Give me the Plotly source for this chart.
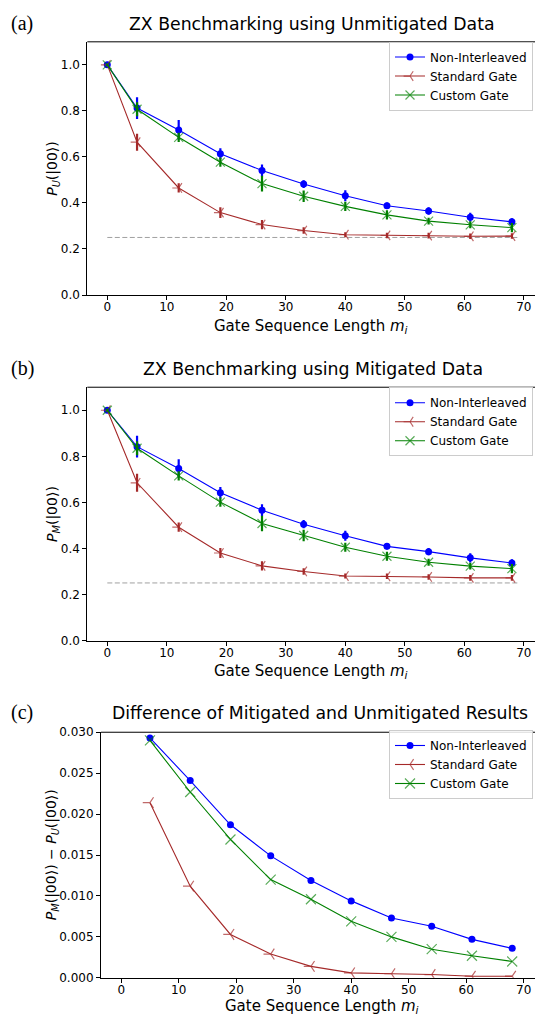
import plotly.graph_objects as go

# ---------------- data ----------------
m_len = [0, 5, 12, 19, 26, 33, 40, 47, 54, 61, 68]
baseline_x = [0, 69]
baseline_y = [0.25, 0.25]

a_non = [1.0, 0.812, 0.717, 0.614, 0.541, 0.482, 0.431, 0.388, 0.365, 0.338, 0.318]
a_non_err = [0.005, 0.047, 0.043, 0.024, 0.026, 0.017, 0.024, 0.014, 0.016, 0.019, 0.016]
a_std = [1.0, 0.664, 0.465, 0.358, 0.306, 0.280, 0.262, 0.259, 0.258, 0.255, 0.256]
a_std_err = [0.005, 0.037, 0.020, 0.023, 0.020, 0.014, 0.011, 0.012, 0.012, 0.012, 0.012]
a_cus = [1.0, 0.807, 0.685, 0.577, 0.484, 0.429, 0.385, 0.348, 0.321, 0.305, 0.293]
a_cus_err = [0.005, 0.030, 0.020, 0.020, 0.034, 0.025, 0.020, 0.020, 0.015, 0.015, 0.020]

b_non = [1.0, 0.842, 0.747, 0.642, 0.566, 0.505, 0.455, 0.409, 0.386, 0.359, 0.337]
b_non_err = [0.005, 0.047, 0.040, 0.025, 0.026, 0.018, 0.022, 0.014, 0.016, 0.020, 0.016]
b_std = [1.0, 0.685, 0.492, 0.380, 0.324, 0.300, 0.280, 0.279, 0.276, 0.272, 0.272]
b_std_err = [0.005, 0.039, 0.020, 0.022, 0.020, 0.014, 0.011, 0.012, 0.012, 0.012, 0.012]
b_cus = [1.0, 0.835, 0.715, 0.601, 0.508, 0.456, 0.405, 0.366, 0.340, 0.323, 0.312]
b_cus_err = [0.005, 0.030, 0.020, 0.020, 0.034, 0.025, 0.020, 0.020, 0.015, 0.015, 0.020]

c_len = [5, 12, 19, 26, 33, 40, 47, 54, 61, 68]
c_non = [0.0293, 0.0241, 0.0187, 0.0149, 0.0119, 0.0094, 0.0073, 0.0063, 0.0047, 0.0036]
c_std = [0.0214, 0.0112, 0.0053, 0.0029, 0.0014, 0.0006, 0.0005, 0.0004, 0.0002, 0.0002]
c_cus = [0.0290, 0.0227, 0.0169, 0.0120, 0.0096, 0.0069, 0.0050, 0.0035, 0.0027, 0.0020]

names = ["Non-Interleaved", "Standard Gate", "Custom Gate"]
x_ticks = [0, 10, 20, 30, 40, 50, 60, 70]

# ---------------- layout helpers ----------------
W, H = 535, 1023
FONT = "DejaVu Sans"
BLUE = "#0000ff"
RED = "#a52a2a"
RED_A = "rgba(165,42,42,0.7)"
GREEN = "#008000"
GREEN_A = "rgba(0,128,0,0.65)"


def px(x):
    return x / W


def py(y):
    return 1 - y / H


fig = go.Figure()


def add_panel(idx, non, non_err, std, std_err, cus, cus_err, legend):
    xa = "x" if idx == 1 else f"x{idx}"
    ya = "y" if idx == 1 else f"y{idx}"
    fig.add_trace(go.Scatter(
        x=baseline_x, y=baseline_y, mode="lines", xaxis=xa, yaxis=ya,
        line=dict(color="rgba(128,128,128,0.75)", width=1, dash="5px,2.5px"),
        showlegend=False, hoverinfo="skip"))
    fig.add_trace(go.Scatter(
        x=m_len, y=non, name=names[0], mode="lines+markers", xaxis=xa, yaxis=ya,
        line=dict(color=BLUE, width=1.1),
        marker=dict(symbol="circle", size=7, color=BLUE),
        error_y=dict(type="data", array=non_err, color=BLUE, thickness=2.2, width=0),
        legend=legend))
    fig.add_trace(go.Scatter(
        x=m_len, y=std, name=names[1], mode="lines+markers", xaxis=xa, yaxis=ya,
        line=dict(color=RED, width=1.1),
        marker=dict(symbol="y-left-open", size=8, color=RED_A, line=dict(color=RED_A, width=1.2)),
        error_y=dict(type="data", array=std_err, color=RED, thickness=2.2, width=0),
        legend=legend))
    fig.add_trace(go.Scatter(
        x=m_len, y=cus, name=names[2], mode="lines+markers", xaxis=xa, yaxis=ya,
        line=dict(color=GREEN, width=1.1),
        marker=dict(symbol="x-thin-open", size=9, color=GREEN_A, line=dict(color=GREEN_A, width=1.2)),
        error_y=dict(type="data", array=cus_err, color=GREEN, thickness=2.2, width=0),
        legend=legend))


add_panel(1, a_non, a_non_err, a_std, a_std_err, a_cus, a_cus_err, "legend")
add_panel(2, b_non, b_non_err, b_std, b_std_err, b_cus, b_cus_err, "legend2")

# panel (c)
fig.add_trace(go.Scatter(
    x=c_len, y=c_non, name=names[0], mode="lines+markers", xaxis="x3", yaxis="y3",
    line=dict(color=BLUE, width=1.1), marker=dict(symbol="circle", size=7, color=BLUE),
    legend="legend3"))
fig.add_trace(go.Scatter(
    x=c_len, y=c_std, name=names[1], mode="lines+markers", xaxis="x3", yaxis="y3",
    line=dict(color=RED, width=1.1),
    marker=dict(symbol="y-left-open", size=9, color=RED_A, line=dict(color=RED_A, width=1.2)),
    legend="legend3"))
fig.add_trace(go.Scatter(
    x=c_len, y=c_cus, name=names[2], mode="lines+markers", xaxis="x3", yaxis="y3",
    line=dict(color=GREEN, width=1.1),
    marker=dict(symbol="x-thin-open", size=10, color=GREEN_A, line=dict(color=GREEN_A, width=1.2)),
    legend="legend3"))

tickfont = dict(family=FONT, size=12, color="black")


def xaxis(dom, rng, anchor):
    return dict(domain=dom, range=rng, anchor=anchor, tickvals=x_ticks,
                showline=True, linecolor="black", linewidth=1, ticks="outside",
                ticklen=4, tickwidth=1, tickcolor="black", showgrid=False,
                zeroline=False, tickfont=tickfont, fixedrange=True,
                ticklabelstandoff=-3)


def yaxis(dom, rng, anchor, tv, fmt):
    return dict(domain=dom, range=rng, anchor=anchor, tickvals=tv, tickformat=fmt,
                showline=True, linecolor="black", linewidth=1, ticks="outside",
                ticklen=4, tickwidth=1, tickcolor="black", showgrid=False,
                zeroline=False, tickfont=tickfont, fixedrange=True)


ab_range = [(87.3 - 107.3) / 5.95, (535 - 107.3) / 5.95]
c_range = [(101 - 121.2) / 5.75, (535 - 121.2) / 5.75]
ytv = [0.0, 0.2, 0.4, 0.6, 0.8, 1.0]
ytv_c = [0.0, 0.005, 0.01, 0.015, 0.02, 0.025, 0.03]

legend_style = dict(bgcolor="rgba(255,255,255,0.85)", bordercolor="#cccccc", borderwidth=1,
                    font=dict(family=FONT, size=12, color="black"), xanchor="right",
                    yanchor="middle", tracegroupgap=0, itemwidth=30)

fig.update_layout(
    width=W, height=H, margin=dict(l=0, r=0, t=0, b=0),
    paper_bgcolor="white", plot_bgcolor="white",
    font=dict(family=FONT, color="black"),
    xaxis=xaxis([px(87.3), 1], ab_range, "y"),
    yaxis=yaxis([py(292), py(35.3)], [0, 1.1], "x", ytv, ".1f"),
    xaxis2=xaxis([px(87.3), 1], ab_range, "y2"),
    yaxis2=yaxis([py(642.3), py(385.5)], [0, 1.1], "x2", ytv, ".1f"),
    xaxis3=xaxis([px(101), 1], c_range, "y3"),
    yaxis3=yaxis([py(984.3), py(735.3)], [0, 0.03], "x3", ytv_c, ".3f"),
    legend=dict(x=px(533), y=py(70), **legend_style),
    legend2=dict(x=px(533), y=py(420.5), **legend_style),
    legend3=dict(x=px(533), y=py(768), **legend_style),
    showlegend=True,
)

# top spines
for yref, xref in [("y domain", "x domain"), ("y2 domain", "x2 domain"), ("y3 domain", "x3 domain")]:
    fig.add_shape(type="line", xref=xref, yref=yref, x0=0, x1=1, y0=1, y1=1,
                  line=dict(color="black", width=1))

ann = []
titles = [("ZX Benchmarking using Unmitigated Data", 312, 17),
          ("ZX Benchmarking using Mitigated Data", 313, 367),
          ("Difference of Mitigated and Unmitigated Results", 320, 715.5)]
for t, x, y in titles:
    ann.append(dict(text=t, x=px(x), y=py(y), xref="paper", yref="paper", showarrow=False,
                    xanchor="center", yanchor="middle", font=dict(family=FONT, size=17.3)))
for t, y in [("(a)", 17), ("(b)", 367), ("(c)", 715.5)]:
    ann.append(dict(text=t, x=px(9), y=py(y), xref="paper", yref="paper", showarrow=False,
                    xanchor="left", yanchor="middle", font=dict(family="Liberation Serif", size=20)))
xlab = "Gate Sequence Length <i>m</i><sub><i>i</i></sub>"
for x, y in [(311, 324), (311, 674), (322, 1013)]:
    ann.append(dict(text=xlab, x=px(x), y=py(y), xref="paper", yref="paper", showarrow=False,
                    xanchor="center", yanchor="middle", font=dict(family=FONT, size=15)))
ylabs = [("<i>P</i><sub><i>U</i></sub>(|00⟩)", 53, 164),
         ("<i>P</i><sub><i>M</i></sub>(|00⟩)", 53, 514),
         ("<i>P</i><sub><i>M</i></sub>(|00⟩) − <i>P</i><sub><i>U</i></sub>(|00⟩)", 52, 860)]
for t, x, y in ylabs:
    ann.append(dict(text=t, x=px(x), y=py(y), xref="paper", yref="paper", showarrow=False,
                    xanchor="center", yanchor="middle", textangle=-90,
                    font=dict(family=FONT, size=14)))
fig.update_layout(annotations=ann)

fig.write_html("out.html")
